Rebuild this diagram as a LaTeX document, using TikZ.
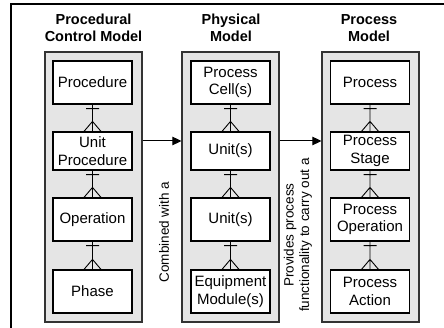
\documentclass[tikz,border=0pt]{standalone}
\usepackage{fontspec}
\setmainfont{Liberation Sans}
\usetikzlibrary{trees,arrows.meta}

\begin{document}
\begin{tikzpicture}[x=1pt,y=-1pt,
  grow=down, level distance=68.5pt,
  box/.style={draw,fill=white,line width=1.2pt,minimum width=79pt,minimum height=43pt,
    inner sep=1pt,align=center,font=\fontsize{15}{17.5}\selectfont},
  panel/.style={draw=black!80,fill=black!10,line width=1.2pt,minimum width=97pt,
    minimum height=270pt,inner sep=0pt},
  title/.style={inner sep=0pt,align=center,font=\fontsize{14.5}{17}\selectfont\bfseries},
  lbl/.style={rotate=90,align=center,font=\fontsize{13.5}{15.5}\selectfont},
  link/.style={line width=1pt,-{Triangle[length=9pt,width=8.5pt]}},
  edge from parent/.style={draw,line width=0.9pt},
  edge from parent path={(\tikzparentnode.south) -- (\tikzchildnode.north)
    ([xshift=-6.5pt,yshift=-4pt]\tikzparentnode.south) -- ++(13pt,0)
    ([xshift=-8.5pt]\tikzchildnode.north) -- ([yshift=10pt]\tikzchildnode.north)
      -- ([xshift=8.5pt]\tikzchildnode.north)}]

  \clip (0,0) rectangle (444,328);
  \draw[line width=2pt] (11,4) rectangle (470,350);

  \node[panel] (ctrlpanel) at (93.5,187) {};
  \node[panel] (physpanel) at (230.5,187) {};
  \node[panel] (procpanel) at (370.5,187) {};

  \node[title] (ctrltitle) at (93.5,28.2) {Procedural\\Control Model};
  \node[title] (phystitle) at (231,28.2) {Physical\\Model};
  \node[title] (proctitle) at (369,28.2) {Process\\Model};

  \node[box] (procedure) at (92.5,82.5) {Procedure}
    child { node[box,minimum height=38pt] (unitproc) {Unit\\Procedure}
      child { node[box] (operation) {Operation}
        child[level distance=72pt] { node[box] (phase) {Phase}}
      }
    };

  \node[box] (cell) at (230.5,82.5) {Process\\Cell(s)}
    child { node[box,minimum height=38pt] (unitA) {Unit(s)}
      child { node[box] (unitB) {Unit(s)}
        child[level distance=72pt] { node[box] (emodule) {Equipment\\Module(s)}}
      }
    };

  \node[box] (process) at (370,82.5) {Process}
    child { node[box,minimum height=38pt] (stage) {Process\\Stage}
      child { node[box] (poper) {Process\\Operation}
        child[level distance=72pt] { node[box] (action) {Process\\Action}}
      }
    };

  \draw[link] ([yshift=46pt]ctrlpanel.east) -- ([yshift=46pt]physpanel.west);
  \draw[link] ([yshift=46pt]physpanel.east) -- ([yshift=46pt]procpanel.west);

  \node[lbl] (combined) at (164,232) {Combined with a};
  \node[lbl] (provides) at (298,235) {Provides process\\functionality to carry out a};
\end{tikzpicture}
\end{document}
